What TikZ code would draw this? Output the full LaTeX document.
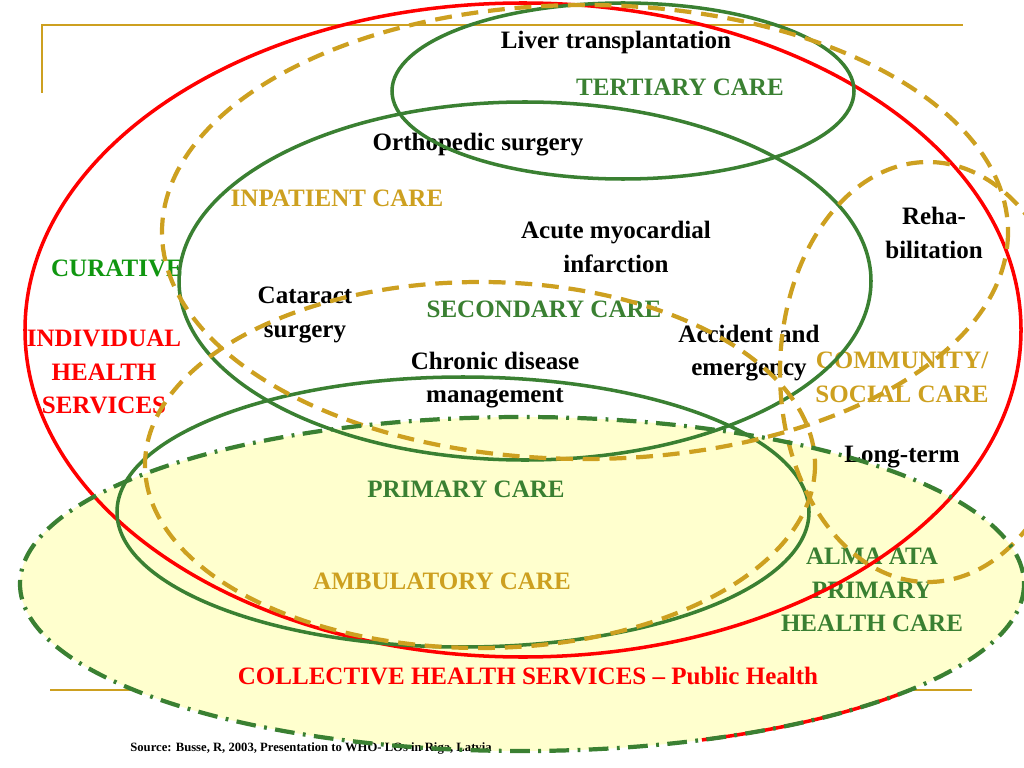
\documentclass[tikz,border=0pt]{standalone}
\usepackage{fontspec}
\setmainfont{Liberation Serif}
\usetikzlibrary{calc, positioning}

\definecolor{carered}{RGB}{255,0,0}
\definecolor{caregreen}{RGB}{58,128,50}
\definecolor{caregold}{RGB}{205,160,32}
\definecolor{curegreen}{RGB}{16,150,16}
\definecolor{publicfill}{RGB}{255,255,206}

\begin{document}
\begin{tikzpicture}[x=0.025cm, y=-0.025cm]
\def\lw{2.5pt}
\tikzset{
  serviceline/.style={draw=carered, line width=\lw},
  tierline/.style={draw=caregreen, line width=\lw},
  settingline/.style={draw=caregold, line width=3pt, dash pattern=on 12pt off 7pt},
  publicline/.style={draw=caregreen, line width=3pt, dash pattern=on 14pt off 6pt on 2pt off 6pt},
  txt/.style={font=\fontsize{17.8}{24}\selectfont\bfseries, align=center, inner sep=0pt},
}
\useasboundingbox (0,0) rectangle (1024,768);
\clip (0,0) rectangle (1024,768);

\coordinate (indiv) at (523,330);
\coordinate (public) at (522,584);
\coordinate (tert) at (623,91);
\coordinate (second) at (525,281);
\coordinate (prim) at (463,512);
\coordinate (inpat) at (585,232);
\coordinate (ambul) at (480,465);
\coordinate (commun) at (928,372);

% slide frame
\draw[caregold, line width=0.8pt] (42,93) -- (42,25) -- (963,25);
\draw[caregold, line width=0.8pt] (50,690) -- (972,690);

\fill[publicfill] (public) ellipse [x radius=502, y radius=167];

% labels
\node[txt] (liver) at (616,42) {Liver transplantation};
\node[txt, caregreen] (tertiary) at (680,87) {TERTIARY CARE};
\node[txt] (ortho) at (478,145) {Orthopedic surgery};
\node[txt, caregold] (inpatient) at (337,198) {INPATIENT CARE};
\node[txt] (acute) at (616,247) {Acute myocardial\\infarction};
\node[txt] (rehab) at (934,233) {Reha-\\bilitation};
\node[txt, curegreen] (curative) at (117,268) {CURATIVE};
\node[txt] (cataract) at (305,315) {Cataract\\surgery};
\node[txt, caregreen] (secondary) at (544,309) {SECONDARY CARE};
\node[txt, carered] (individual) at (104,372) {INDIVIDUAL\\HEALTH\\SERVICES};
\node[txt] (chronic) at (495,380) {Chronic disease\\management};
\node[txt] (accident) at (749,353) {Accident and\\emergency};
\node[txt, caregold] (community) at (902,377) {COMMUNITY/\\SOCIAL CARE};
\node[txt] (longterm) at (902,457) {Long-term};
\node[txt, caregreen] (primary) at (466,489) {PRIMARY CARE};
\node[txt, caregold] (ambulatory) at (442,581) {AMBULATORY CARE};
\node[txt, caregreen] (almaata) at (872,590) {ALMA ATA\\PRIMARY\\HEALTH CARE};
\node[txt, carered] (collective) at (528,676) {COLLECTIVE HEALTH SERVICES -- Public Health};
\node[font=\fontsize{9}{10}\selectfont\bfseries, inner sep=0pt] (source) at (311,748)
  {Source: Busse, R, 2003, Presentation to WHO- LOs in Riga, Latvia};

% ellipses
\draw[serviceline] ($(public)+(41:502 and 167)$) arc [start angle=41, end angle=69, x radius=502, y radius=167];
\draw[serviceline] (indiv) ellipse [x radius=498, y radius=327];
\draw[tierline] (tert) ellipse [x radius=231, y radius=88];
\draw[tierline] (second) ellipse [x radius=346, y radius=179];
\draw[tierline] (prim) ellipse [x radius=346, y radius=135];
\draw[settingline] (inpat) ellipse [x radius=423, y radius=227];
\draw[settingline] (ambul) ellipse [x radius=335, y radius=183];
\draw[settingline] (commun) ellipse [x radius=148, y radius=210];
\draw[publicline] (public) ellipse [x radius=502, y radius=167];
\end{tikzpicture}
\end{document}
